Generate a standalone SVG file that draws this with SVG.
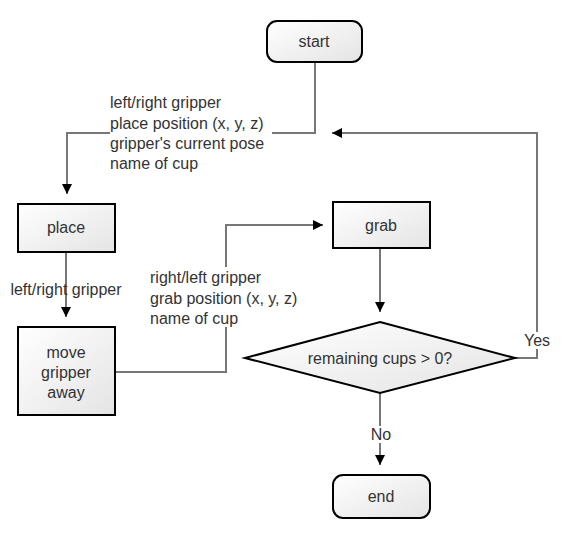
<svg xmlns="http://www.w3.org/2000/svg" width="564" height="543" viewBox="0 0 564 543">
<defs>
<linearGradient id="g" x1="0" y1="0" x2="1" y2="1">
<stop offset="0" stop-color="#ffffff"/>
<stop offset="1" stop-color="#e4e4e4"/>
</linearGradient>
<marker id="arr" viewBox="0 0 10 10" refX="10" refY="5" markerWidth="10" markerHeight="10" markerUnits="userSpaceOnUse" orient="auto">
<path d="M0,0 L10,5 L0,10 z" fill="#000"/>
</marker>
<style>
.n{fill:url(#g);stroke:#000;stroke-width:2}
.t{font-family:"Liberation Sans",Arial,sans-serif;font-size:16px;fill:#333}
.c{text-anchor:middle}
.e{fill:none;stroke:#777;stroke-width:2}
</style>
</defs>
<rect width="564" height="543" fill="#fff"/>
<g id="connectors">
<polyline class="e" points="315,62 315,133 272,133"/>
<polyline class="e" points="110,133 67,133 67,194" marker-end="url(#arr)"/>
<polyline class="e" points="515,358 537,358 537,133 332,133" marker-end="url(#arr)"/>
<polyline class="e" points="66,253 66,317" marker-end="url(#arr)"/>
<polyline class="e" points="115,372 226,372 226,327"/>
<polyline class="e" points="226,267 226,225 323,225" marker-end="url(#arr)"/>
<polyline class="e" points="380,248 380,312" marker-end="url(#arr)"/>
<polyline class="e" points="380,393 380,465" marker-end="url(#arr)"/>
<text class="t" x="110" y="108">left/right gripper</text>
<text class="t" x="110" y="128.5">place position (x, y, z)</text>
<text class="t" x="110" y="149">gripper's current pose</text>
<text class="t" x="110" y="169">name of cup</text>
<text class="t c" x="66" y="295">left/right gripper</text>
<text class="t" x="150" y="282.5">right/left gripper</text>
<text class="t" x="150" y="303.5">grab position (x, y, z)</text>
<text class="t" x="150" y="323.5">name of cup</text>
<rect x="523" y="332" width="28" height="17" fill="#fff"/>
<text class="t c" x="537" y="346">Yes</text>
<rect x="369" y="426" width="24" height="17" fill="#fff"/>
<text class="t c" x="381" y="440">No</text>
</g>
<g id="start">
<rect class="n" x="267" y="21" width="95" height="41" rx="10"/>
<text class="t c" x="314" y="47">start</text>
</g>
<g id="place">
<rect class="n" x="18" y="204" width="97" height="48"/>
<text class="t c" x="66" y="233">place</text>
</g>
<g id="move">
<rect class="n" x="18" y="327" width="97" height="88"/>
<text class="t c" x="66" y="358">move</text>
<text class="t c" x="66" y="378">gripper</text>
<text class="t c" x="66" y="398">away</text>
</g>
<g id="grab">
<rect class="n" x="333" y="202" width="97" height="46"/>
<text class="t c" x="381" y="231">grab</text>
</g>
<g id="decision">
<polygon class="n" points="380,322 515,358 380,393 245,358"/>
<text class="t c" x="380" y="363.5">remaining cups &gt; 0?</text>
</g>
<g id="end">
<rect class="n" x="333" y="475" width="97" height="43" rx="10"/>
<text class="t c" x="381" y="502">end</text>
</g>
</svg>
